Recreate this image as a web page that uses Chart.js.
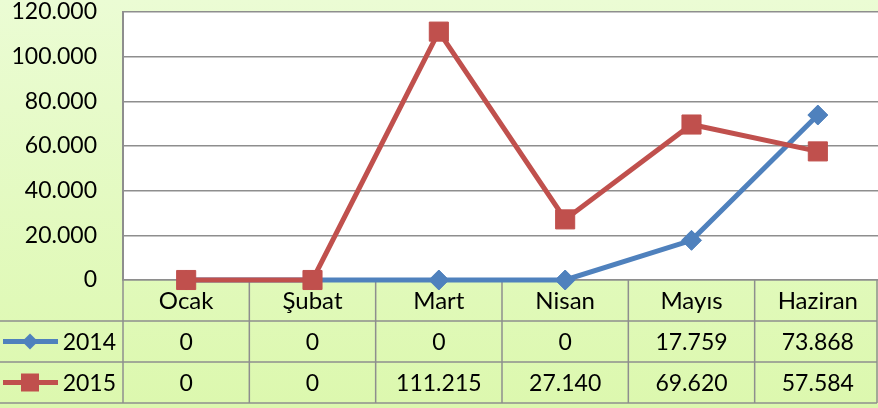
<!DOCTYPE html>
<html><head><meta charset="utf-8">
<script src="https://cdn.jsdelivr.net/npm/chart.js@4"></script>
<style>html,body{margin:0;padding:0;background:#e2f8c2;overflow:hidden}canvas{display:block}</style>
</head><body>
<canvas id="c" width="878" height="408"></canvas>
<script>
const categories = ['Ocak', 'Şubat', 'Mart', 'Nisan', 'Mayıs', 'Haziran'];
const seriesNames = ['2014', '2015'];
const values2014 = [0, 0, 0, 0, 17759, 73868];
const values2015 = [0, 0, 111215, 27140, 69620, 57584];
const yMin = 0, yMax = 120000, yStep = 20000;

const FONT = 'Lato, "Open Sans", sans-serif';
const NUM_SIZE = 23;
const CAT_SIZE = 24;
const BLUE = '#4f81bd', RED = '#c0504d';
const GRID = '#8e8e8e';
const AREA = { left: 123, top: 12, right: 881, bottom: 280 };

function fmt(v) { return String(v).replace(/\B(?=(\d{3})+(?!\d))/g, '.'); }

const fixLayout = {
  id: 'fixLayout',
  afterLayout(chart) {
    const { left: L, top: T, right: R, bottom: B } = AREA;
    chart.chartArea = { left: L, top: T, right: R, bottom: B, width: R - L, height: B - T };
    const x = chart.scales.x, y = chart.scales.y;
    x.left = L; x.right = R; x.top = B; x.bottom = chart.height; x.width = R - L; x.height = chart.height - B;
    y.left = 0; y.right = L; y.top = T; y.bottom = B; y.width = L; y.height = B - T;
    x.configure(); y.configure();
  }
};

const bgPlugin = {
  id: 'bg',
  beforeDraw(chart) {
    const { ctx, chartArea: a, width, height } = chart;
    ctx.save();
    const g = ctx.createLinearGradient(0, 0, 0, height);
    g.addColorStop(0, '#ebfcd4');
    g.addColorStop(1, '#dcf8ae');
    ctx.fillStyle = g;
    ctx.fillRect(0, 0, width, height);
    ctx.fillStyle = '#ffffff';
    ctx.fillRect(a.left, a.top, a.right - a.left, a.bottom - a.top);
    ctx.restore();
  }
};

const tablePlugin = {
  id: 'table',
  beforeDatasetsDraw(chart) {
    const { ctx, chartArea: a } = chart;
    const x = chart.scales.x;
    const n = categories.length;
    const colW = x.getPixelForValue(1) - x.getPixelForValue(0);
    const rowH = 41;
    const top = a.bottom;
    const r1 = top + rowH, r2 = r1 + rowH, r3 = r2 + rowH;
    const rightEdge = 877;
    ctx.save();
    ctx.strokeStyle = GRID;
    ctx.lineWidth = 1.5;
    ctx.beginPath();
    [r1, r2, r3].forEach(y => { ctx.moveTo(0, y); ctx.lineTo(rightEdge, y); });
    for (let i = 0; i <= n; i++) {
      let px = x.getPixelForValue(i) - colW / 2;
      if (i === n) px = rightEdge;
      ctx.moveTo(px, top); ctx.lineTo(px, r3);
    }
    ctx.stroke();
    ctx.fillStyle = '#000';
    ctx.font = NUM_SIZE + 'px ' + FONT;
    ctx.textAlign = 'center';
    ctx.textBaseline = 'middle';
    const rows = [values2014, values2015];
    rows.forEach((vals, ri) => {
      const cy = top + rowH * (ri + 1) + rowH / 2 + 1;
      vals.forEach((v, i) => ctx.fillText(fmt(v), x.getPixelForValue(i), cy));
    });
    const colors = [BLUE, RED];
    seriesNames.forEach((name, ri) => {
      const cy = top + rowH * (ri + 1) + rowH / 2;
      ctx.strokeStyle = colors[ri];
      ctx.fillStyle = colors[ri];
      ctx.lineWidth = 5;
      ctx.beginPath(); ctx.moveTo(3, cy); ctx.lineTo(58, cy); ctx.stroke();
      ctx.beginPath();
      if (ri === 0) {
        ctx.moveTo(30, cy - 8); ctx.lineTo(38, cy); ctx.lineTo(30, cy + 8); ctx.lineTo(22, cy); ctx.closePath();
      } else {
        ctx.rect(21, cy - 9, 18, 18);
      }
      ctx.fill();
      ctx.fillStyle = '#000';
      ctx.textAlign = 'right';
      ctx.fillText(name, 116, cy + 1);
    });
    ctx.restore();
  }
};

new Chart(document.getElementById('c'), {
  type: 'line',
  data: {
    labels: categories,
    datasets: [
      {
        label: seriesNames[0], data: values2014, order: 1,
        borderColor: BLUE, backgroundColor: BLUE, borderWidth: 5,
        pointStyle: 'rectRot', pointRadius: 10, pointHoverRadius: 10,
        pointBorderWidth: 1, pointBackgroundColor: BLUE, pointBorderColor: BLUE,
        tension: 0, clip: false
      },
      {
        label: seriesNames[1], data: values2015, order: 0,
        borderColor: RED, backgroundColor: RED, borderWidth: 5,
        pointStyle: 'rect', pointRadius: 13.5, pointHoverRadius: 13.5,
        pointBorderWidth: 1, pointBackgroundColor: RED, pointBorderColor: RED,
        tension: 0, clip: false
      }
    ]
  },
  options: {
    responsive: false,
    animation: false,
    events: [],
    plugins: { legend: { display: false }, tooltip: { enabled: false } },
    scales: {
      x: {
        offset: true,
        grid: { display: false, drawTicks: false },
        border: { display: true, color: GRID, width: 1.5 },
        ticks: { color: '#000', font: { family: FONT, size: CAT_SIZE }, padding: 7, maxRotation: 0, autoSkip: false }
      },
      y: {
        min: yMin, max: yMax,
        grid: { color: GRID, lineWidth: 1.5, drawTicks: false },
        border: { display: true, color: GRID, width: 2 },
        ticks: {
          stepSize: yStep, color: '#000', padding: 26,
          font: { family: FONT, size: NUM_SIZE },
          callback: v => fmt(v)
        }
      }
    }
  },
  plugins: [fixLayout, bgPlugin, tablePlugin]
});
</script>
</body></html>
